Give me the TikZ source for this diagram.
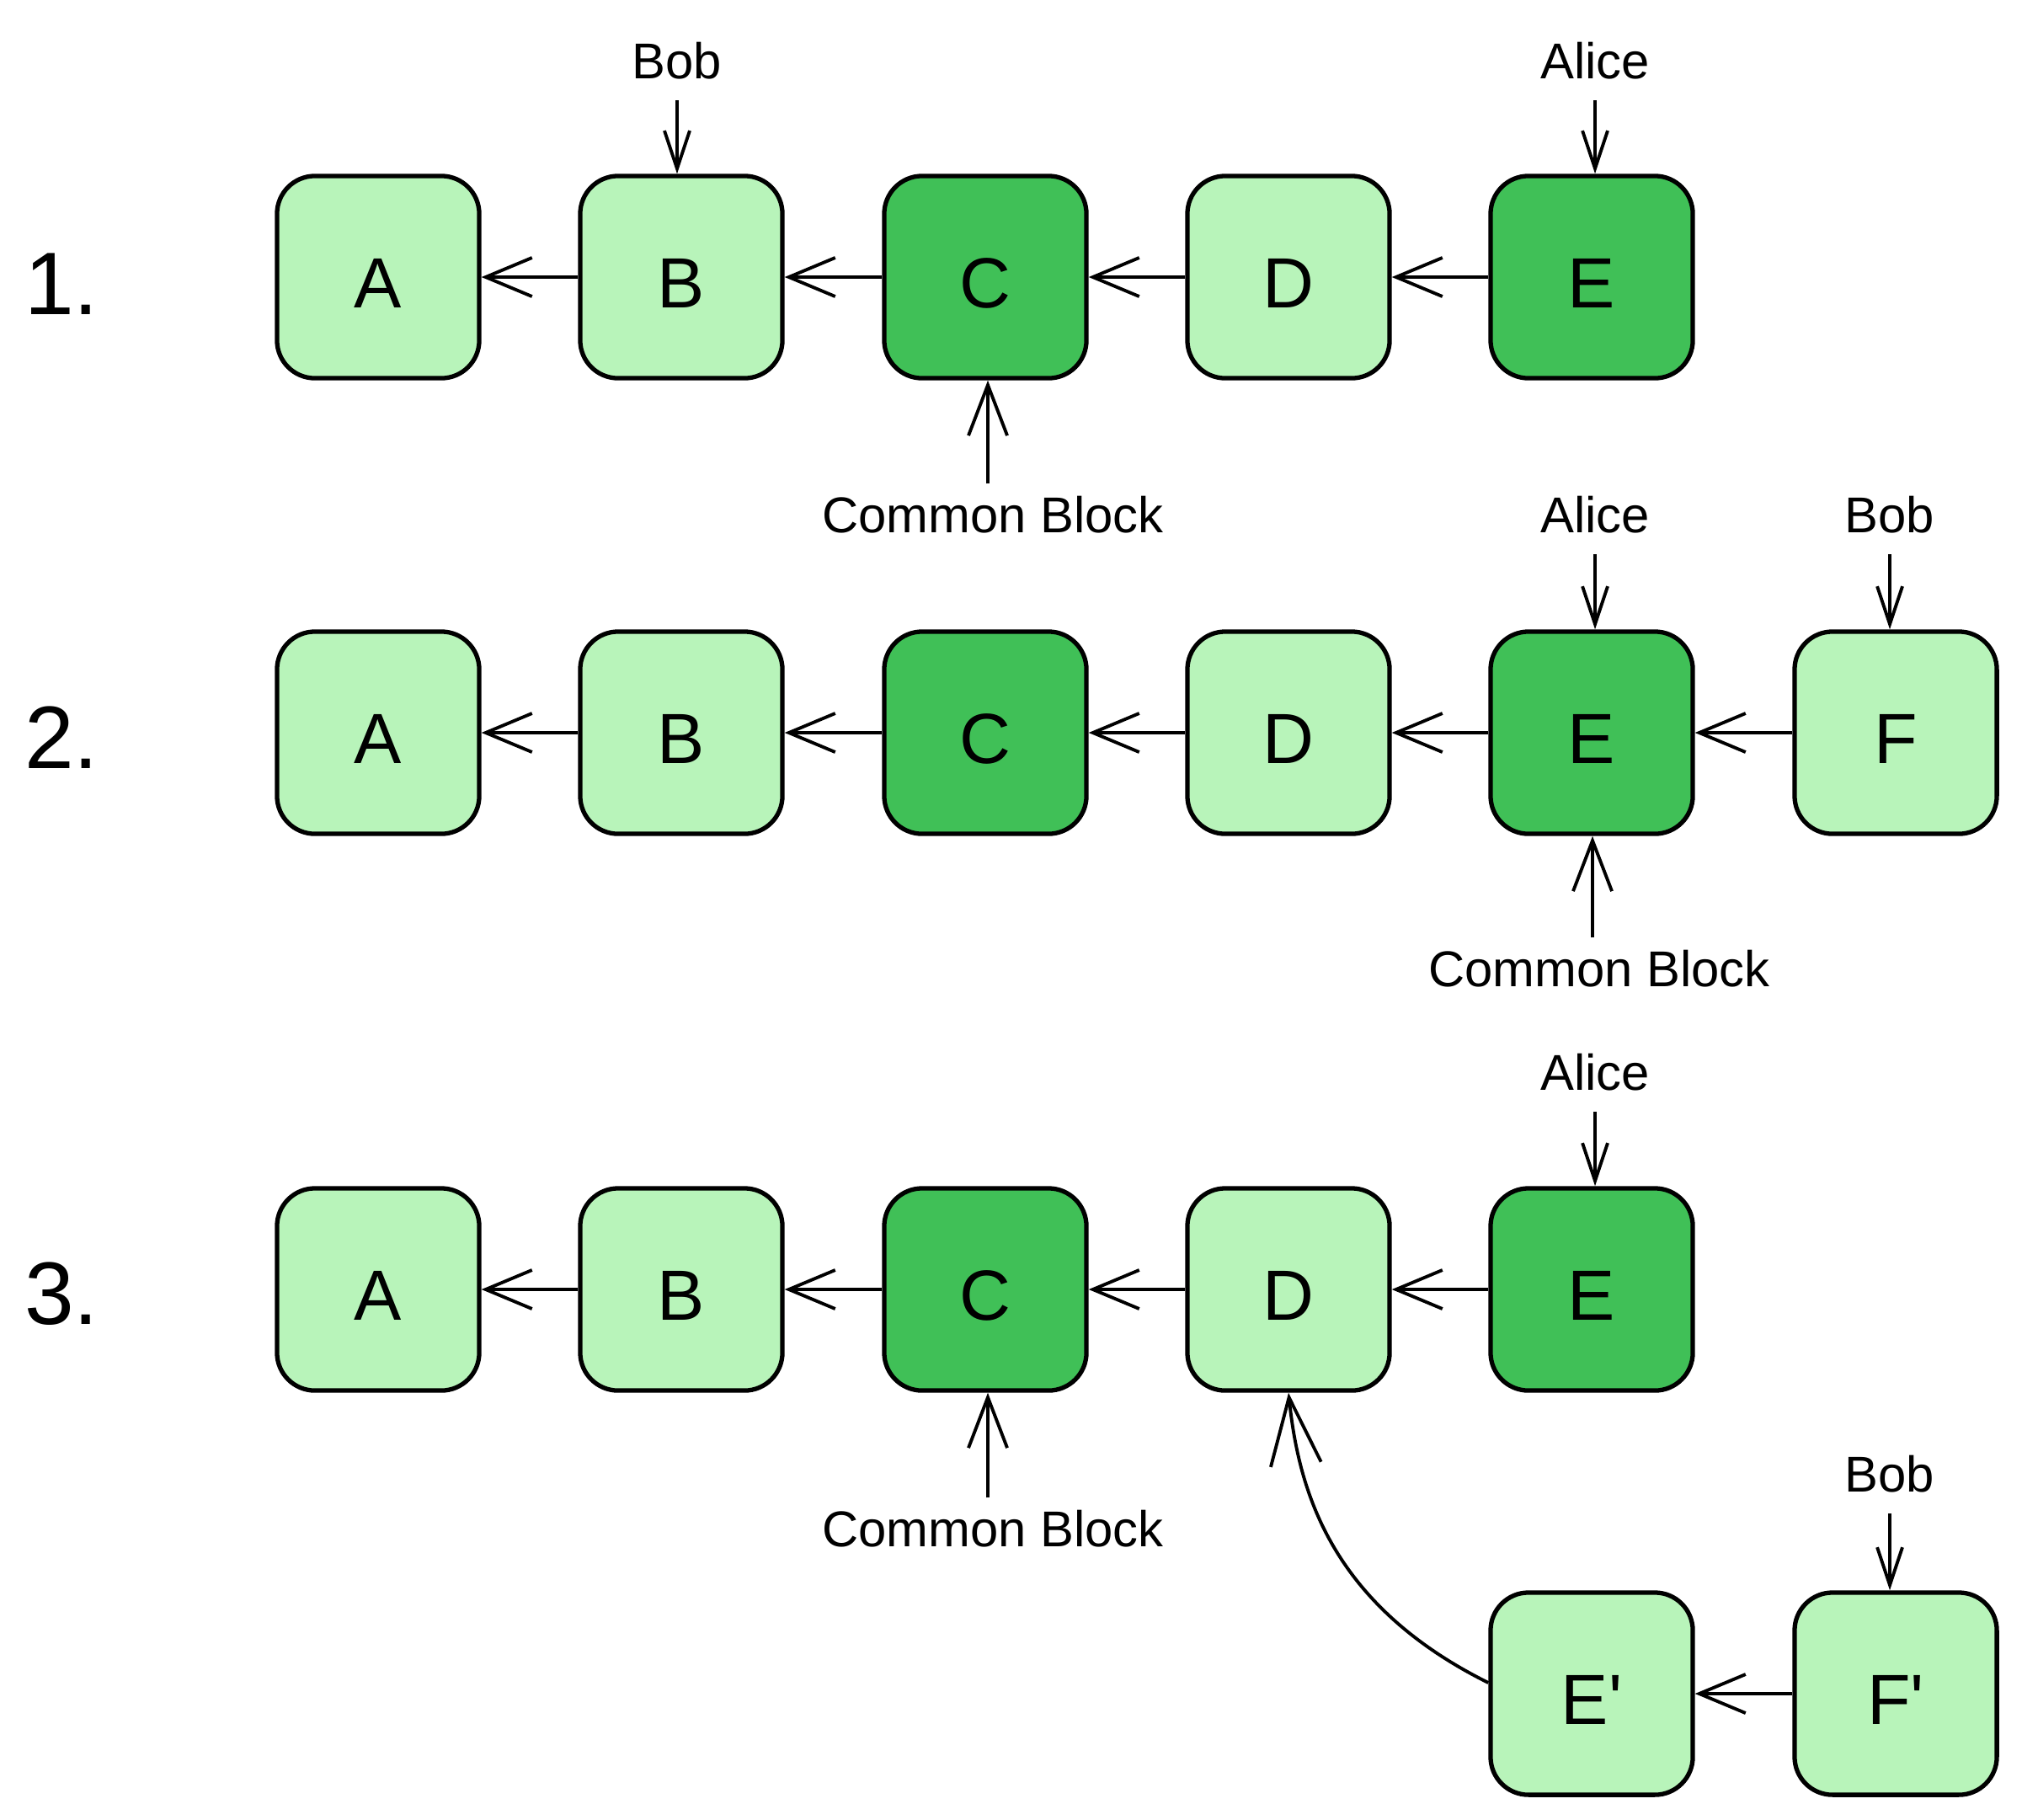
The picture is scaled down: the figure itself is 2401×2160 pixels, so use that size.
\documentclass[tikz,border=0pt]{standalone}
\usepackage{fontspec}
\setmainfont{Liberation Sans}
\usetikzlibrary{arrows.meta}
\definecolor{lightg}{HTML}{B8F4BA}
\definecolor{darkg}{HTML}{40C057}
\tikzset{
  blk/.style={draw=black, line width=1.5pt, rounded corners=0.45cm, minimum width=2.4cm, minimum height=2.4cm, inner sep=0pt, fill=lightg, font=\fontsize{24}{28}\selectfont, text depth=0pt, text height=0.73cm},
  blkdark/.style={blk, fill=darkg},
  lbl/.style={inner sep=2pt, font=\fontsize{17}{20}\selectfont},
  num/.style={inner sep=0pt, font=\fontsize{30}{36}\selectfont},
  harr/.style={draw, line width=1.1pt, -{Straight Barb[length=0.55cm, width=0.46cm, line width=1.1pt]}},
  darr/.style={draw, line width=1.1pt, shorten <=5pt, -{Straight Barb[length=0.45cm, width=0.3cm, line width=1.1pt]}},
  uarr/.style={draw, line width=1.1pt, shorten <=2pt, -{Straight Barb[length=0.6cm, width=0.46cm, line width=1.1pt]}},
  carr/.style={draw, line width=1.1pt, -{Straight Barb[length=0.8cm, width=0.6cm, line width=1.1pt]}}
}
\begin{document}
\begin{tikzpicture}[x=0.01cm, y=-0.01cm]
\useasboundingbox (0,0) rectangle (2401,2160);
% row numbers
\node[num] (n1) at (73,337) {1.};
\node[num] (n2) at (73,876) {2.};
\node[num] (n3) at (73,1536) {3.};
% row 1
\node[blk] (A1) at (449,329) {A};
\node[blk] (B1) at (809,329) {B};
\node[blkdark] (C1) at (1170,329) {C};
\node[blk] (D1) at (1530,329) {D};
\node[blkdark] (E1) at (1890,329) {E};
\draw[harr] (B1.west) -- (A1.east);
\draw[harr] (C1.west) -- (B1.east);
\draw[harr] (D1.west) -- (C1.east);
\draw[harr] (E1.west) -- (D1.east);
\node[lbl] (bob1) at (804,72) {Bob};
\node[lbl] (alice1) at (1894,72) {Alice};
\node[lbl] (cb1) at (1179,611) {Common Block};
\draw[darr] (bob1) -- (bob1 |- B1.north);
\draw[darr] (alice1) -- (alice1 |- E1.north);
\draw[uarr] ([xshift=-0.06cm]cb1.north) -- ([xshift=-0.06cm]cb1.north |- C1.south);
% row 2
\node[blk] (A2) at (449,870) {A};
\node[blk] (B2) at (809,870) {B};
\node[blkdark] (C2) at (1170,870) {C};
\node[blk] (D2) at (1530,870) {D};
\node[blkdark] (E2) at (1890,870) {E};
\node[blk] (F2) at (2251,870) {F};
\draw[harr] (B2.west) -- (A2.east);
\draw[harr] (C2.west) -- (B2.east);
\draw[harr] (D2.west) -- (C2.east);
\draw[harr] (E2.west) -- (D2.east);
\draw[harr] (F2.west) -- (E2.east);
\node[lbl] (alice2) at (1894,611) {Alice};
\node[lbl] (bob2) at (2244,611) {Bob};
\node[lbl] (cb2) at (1899,1150) {Common Block};
\draw[darr] (alice2) -- (alice2 |- E2.north);
\draw[darr] (bob2) -- (bob2 |- F2.north);
\draw[uarr] ([xshift=-0.08cm]cb2.north) -- ([xshift=-0.08cm]cb2.north |- E2.south);
% row 3
\node[blk] (A3) at (449,1531) {A};
\node[blk] (B3) at (809,1531) {B};
\node[blkdark] (C3) at (1170,1531) {C};
\node[blk] (D3) at (1530,1531) {D};
\node[blkdark] (E3) at (1890,1531) {E};
\node[blk] (Ep) at (1890,2011) {E\textquotesingle};
\node[blk] (Fp) at (2251,2011) {F\textquotesingle};
\draw[harr] (B3.west) -- (A3.east);
\draw[harr] (C3.west) -- (B3.east);
\draw[harr] (D3.west) -- (C3.east);
\draw[harr] (E3.west) -- (D3.east);
\draw[harr] (Fp.west) -- (Ep.east);
\draw[carr] ([yshift=0.13cm]Ep.west) .. controls (1580,1905) and (1542,1770) .. (D3.south);
\node[lbl] (alice3) at (1894,1273) {Alice};
\node[lbl] (cb3) at (1179,1815) {Common Block};
\node[lbl] (bob3) at (2244,1750) {Bob};
\draw[darr] (alice3) -- (alice3 |- E3.north);
\draw[darr] (bob3) -- (bob3 |- Fp.north);
\draw[uarr] ([xshift=-0.06cm]cb3.north) -- ([xshift=-0.06cm]cb3.north |- C3.south);
\end{tikzpicture}
\end{document}
